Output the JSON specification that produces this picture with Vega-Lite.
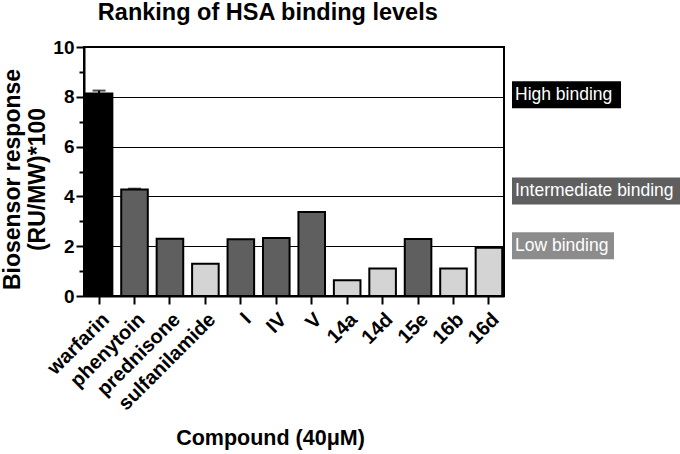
{
  "$schema": "https://vega.github.io/schema/vega-lite/v6.json",
  "padding": {"left": 0, "top": 0, "right": 0, "bottom": 0},
  "title": {"text": "Ranking of HSA binding levels", "anchor": "start", "dx": 97, "fontSize": 23.5, "fontWeight": "bold", "color": "black", "offset": 13},
  "spacing": 8,
  "bounds": "flush",
  "datasets": {
    "bars": [
      {"compound": "warfarin", "value": 8.13, "binding": "High"},
      {"compound": "phenytoin", "value": 4.28, "binding": "Intermediate"},
      {"compound": "prednisone", "value": 2.3, "binding": "Intermediate"},
      {"compound": "sulfanilamide", "value": 1.3, "binding": "Low"},
      {"compound": "I", "value": 2.28, "binding": "Intermediate"},
      {"compound": "IV", "value": 2.33, "binding": "Intermediate"},
      {"compound": "V", "value": 3.37, "binding": "Intermediate"},
      {"compound": "14a", "value": 0.63, "binding": "Low"},
      {"compound": "14d", "value": 1.1, "binding": "Low"},
      {"compound": "15e", "value": 2.29, "binding": "Intermediate"},
      {"compound": "16b", "value": 1.1, "binding": "Low"},
      {"compound": "16d", "value": 1.94, "binding": "Low"}
    ],
    "errors": [
      {"compound": "warfarin", "value": 8.13, "err": 0.12},
      {"compound": "phenytoin", "value": 4.28, "err": 0.03}
    ],
    "labels": [
      {"label": "High binding", "level": 8.08},
      {"label": "Intermediate binding", "level": 4.22},
      {"label": "Low binding", "level": 2.02}
    ]
  },
  "hconcat": [
    {
      "width": 420,
      "height": 249,
      "encoding": {
        "x": {
          "field": "compound", "type": "nominal", "sort": null,
          "scale": {"paddingInner": 0.25, "paddingOuter": 0.05},
          "axis": {
            "title": "Compound (40μM)",
            "labelAngle": -45, "labelFontSize": 20, "labelPadding": 5,
            "tickSize": 8, "titleFontSize": 21.5,
            "titleX": 186, "titleY": 148, "titleBaseline": "alphabetic"
          }
        },
        "y": {
          "field": "value", "type": "quantitative",
          "scale": {"domain": [0, 10], "nice": false},
          "axis": {
            "title": ["Biosensor response", "(RU/MW)*100"],
            "values": [0, 1, 2, 3, 4, 5, 6, 7, 8, 9, 10],
            "labelExpr": "datum.value % 2 === 0 ? datum.label : ''",
            "tickSize": {"condition": {"test": "datum.value % 2 === 1", "value": 5}, "value": 8},
            "gridOpacity": {"condition": {"test": "datum.value % 2 === 1 || datum.value === 0", "value": 0}, "value": 1},
            "labelFontSize": 19, "labelPadding": 2,
            "titleFontSize": 23, "titleLineHeight": 25, "titlePadding": 3,
            "titleY": 132
          }
        }
      },
      "layer": [
        {
          "data": {"name": "errors"},
          "mark": {"type": "errorbar", "ticks": {"size": 13, "thickness": 2, "color": "black"}, "rule": {"strokeWidth": 2, "color": "black"}},
          "encoding": {"yError": {"field": "err"}}
        },
        {
          "data": {"name": "bars"},
          "mark": {"type": "bar", "stroke": "black", "strokeWidth": 2},
          "encoding": {
            "fill": {"field": "binding", "type": "nominal", "scale": {"domain": ["High", "Intermediate", "Low"], "range": ["#000000", "#5f5f5f", "#d4d4d4"]}, "legend": null}
          }
        }
      ]
    },
    {
      "width": 170,
      "height": 249,
      "view": {"stroke": null},
      "data": {"name": "labels"},
      "encoding": {
        "x": {"datum": 0, "type": "quantitative", "scale": {"domain": [0, 1]}, "axis": null},
        "y": {"field": "level", "type": "quantitative", "scale": {"domain": [0, 10], "nice": false}, "axis": null}
      },
      "layer": [
        {
          "mark": {"type": "point", "filled": true, "size": 4, "opacity": 1, "strokeWidth": 0},
          "encoding": {
            "shape": {"field": "label", "type": "nominal", "scale": {"domain": ["High binding", "Intermediate binding", "Low binding"], "range": ["M0,-13.5H109V13.5H0Z", "M0,-13.5H190V13.5H0Z", "M0,-13.5H102V13.5H0Z"]}, "legend": null},
            "fill": {"field": "label", "type": "nominal", "scale": {"domain": ["High binding", "Intermediate binding", "Low binding"], "range": ["#000000", "#5f5f5f", "#8c8c8c"]}, "legend": null}
          }
        },
        {
          "mark": {"type": "text", "align": "left", "baseline": "middle", "dx": 3, "fontSize": 17.5, "color": "white"},
          "encoding": {"text": {"field": "label"}}
        }
      ]
    }
  ],
  "resolve": {"scale": {"fill": "independent", "shape": "independent", "x": "independent", "y": "independent"}},
  "config": {
    "font": "Liberation Sans",
    "view": {"stroke": "black", "strokeWidth": 2},
    "axis": {
      "domainColor": "black", "domainWidth": 2,
      "tickColor": "black", "tickWidth": 2,
      "labelColor": "black", "labelFontWeight": "bold",
      "titleColor": "black", "titleFontWeight": "bold",
      "gridColor": "black", "gridWidth": 1.2
    }
  }
}
